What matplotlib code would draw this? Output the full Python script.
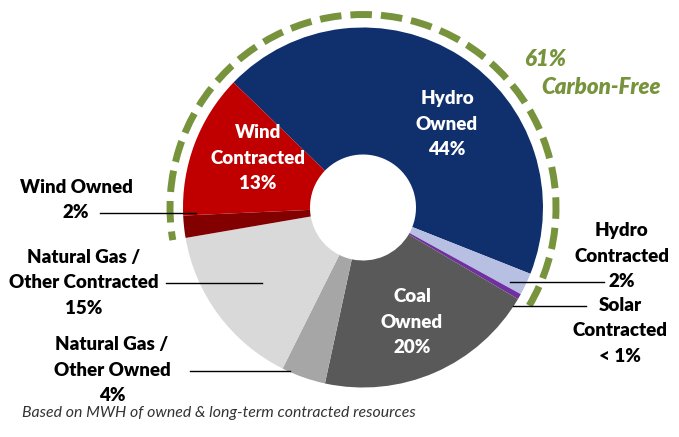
import matplotlib
matplotlib.use("Agg")
import matplotlib.pyplot as plt
from matplotlib.patches import Arc

plt.rcParams['font.family'] = ['Lato', 'DejaVu Sans']

# share of MWH, drawn clockwise from the upper left
sources = ["Hydro Owned", "Hydro Contracted", "Solar Contracted", "Coal Owned",
           "Natural Gas / Other Owned", "Natural Gas / Other Contracted",
           "Wind Owned", "Wind Contracted"]
shares = [44, 2, 0.5, 20, 4, 15, 2, 13]
colors = ["#0f2f6d", "#b7bfe2", "#7030a0", "#595959",
          "#a6a6a6", "#d9d9d9", "#820000", "#c00000"]
carbon_free_label = "61%"

W, H = 679, 437
fig = plt.figure(figsize=(W / 100, H / 100), dpi=100)
ax = fig.add_axes([0, 0, 1, 1])


def py(y):
    # pixel row from the top -> data y
    return H - y


cx, cy = 363, py(207.5)
R = 180
start = 136

ax.pie(shares, colors=colors, startangle=start, counterclock=False,
       radius=R, center=(cx, cy), wedgeprops=dict(width=R - 53, linewidth=0),
       frame=True)
ax.set_xlim(0, W)
ax.set_ylim(0, H)
ax.set_aspect("equal")
ax.axis("off")

# dashed arc over the carbon-free slices
total = sum(shares)
deg = [s / total * 360 for s in shares]
hydro_end = start - sum(deg[:3])
wind_start = start - sum(deg[:6])
green = "#77933c"
arc = Arc((cx, cy), 2 * 193, 2 * 193, theta1=hydro_end, theta2=wind_start + 360,
          color=green, lw=5, linestyle=(0, (3.1, 1.3)))
ax.add_patch(arc)

ax.text(524, py(60), carbon_free_label, color=green, fontsize=16,
        fontweight="heavy", fontstyle="italic", va="center", ha="left")
ax.text(541, py(88), "Carbon-Free", color=green, fontsize=16,
        fontweight="heavy", fontstyle="italic", va="center", ha="left")

# labels inside the ring
inner = dict(color="white", fontsize=13.5, fontweight="heavy", ha="center",
             va="center", linespacing=1.6)
ax.text(447, py(124), "Hydro\nOwned\n%d%%" % shares[0], **inner)
ax.text(258, py(158), "Wind\nContracted\n%d%%" % shares[7], **inner)
ax.text(412, py(322), "Coal\nOwned\n%d%%" % shares[3], **inner)

# labels outside with leader lines
outer = dict(color="black", fontsize=13.5, fontweight="heavy", ha="center",
             va="center", linespacing=1.6)
ax.text(76, py(200), "Wind Owned\n%d%%" % shares[6], **outer)
ax.plot([100, 196], [py(213), py(213)], color="black", lw=1)

ax.text(84, py(283), "Natural Gas /\nOther Contracted\n%d%%" % shares[5], **outer)
ax.plot([166, 262], [py(283), py(283)], color="black", lw=1)

ax.text(112, py(370), "Natural Gas /\nOther Owned\n%d%%" % shares[4], **outer)
ax.plot([190, 290], [py(371), py(371)], color="black", lw=1)

ax.text(622, py(256), "Hydro\nContracted\n%d%%" % shares[1], **outer)
ax.plot([510, 604], [py(282), py(282)], color="black", lw=1)

ax.text(620, py(331), "Solar\nContracted\n< 1%", **outer)
ax.plot([513, 586], [py(306), py(306)], color="black", lw=1)

ax.text(22, py(413), "Based on MWH of owned & long-term contracted resources",
        fontsize=11.4, fontstyle="italic", color="#333333", va="center", ha="left")

fig.savefig("out.png", dpi=100)
